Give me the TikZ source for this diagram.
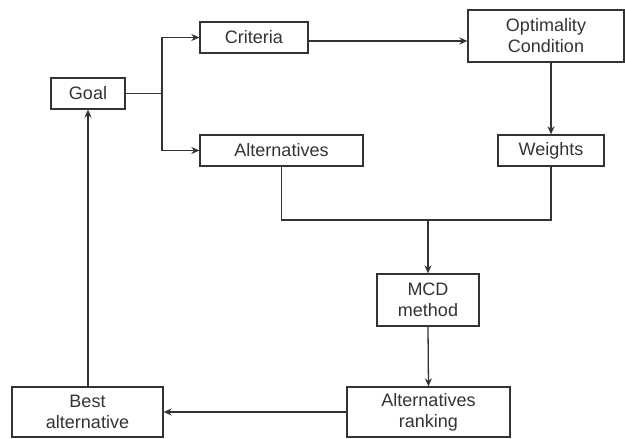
\documentclass[tikz,border=0pt]{standalone}
\usepackage{fontspec}
\setmainfont{Liberation Sans}
\usetikzlibrary{arrows.meta}
\definecolor{ink}{HTML}{333333}
\tikzset{
  box/.style={draw=ink, line width=1.3pt, inner sep=0pt, align=center,
    text=ink, font=\fontsize{18}{21}\selectfont},
  conn/.style={draw=ink, line width=1.3pt},
  arr/.style={conn, -{Stealth[length=8pt,width=7pt]}}
}
\begin{document}
\begin{tikzpicture}[x=1pt,y=-1pt]
\useasboundingbox (0,0) rectangle (625,439);
\node[box, minimum width=74pt, minimum height=31pt] (goal) at (88,93.5) {Goal};
\node[box, minimum width=108pt, minimum height=31pt] (crit) at (254,37.5) {Criteria};
\node[box, minimum width=163pt, minimum height=31pt] (alt) at (281.5,150.5) {Alternatives};
\node[box, minimum width=156pt, minimum height=52pt] (opt) at (546,36) {Optimality\\Condition};
\node[box, minimum width=106pt, minimum height=31pt] (wts) at (551,150.5) {Weights};
\node[box, minimum width=102pt, minimum height=52pt] (mcd) at (428,300) {MCD\\method};
\node[box, minimum width=163pt, minimum height=50pt] (rank) at (428.5,412) {Alternatives\\ranking};
\node[box, minimum width=151pt, minimum height=50pt] (best) at (87.5,412) {Best\\alternative};
\coordinate (split) at (162,93.5);
\coordinate (c41) at (0,41);
\coordinate (join) at (0,220);
\draw[conn] (goal.east) -- (split);
\draw[arr] (split) |- (crit.west);
\draw[arr] (split) |- (alt.west);
\draw[arr] (crit.east |- c41) -- (opt.west |- c41);
\draw[arr] (wts.north |- opt.south) -- (wts.north);
\draw[conn] (alt.south) -- (alt.south |- join) -- (wts.south |- join) -- (wts.south);
\draw[arr] (mcd.north |- join) -- (mcd.north);
\draw[arr] (mcd.south) -- (rank.north);
\draw[arr] (rank.west) -- (best.east);
\draw[arr] (best.north -| goal.south) -- (goal.south);
\end{tikzpicture}
\end{document}
